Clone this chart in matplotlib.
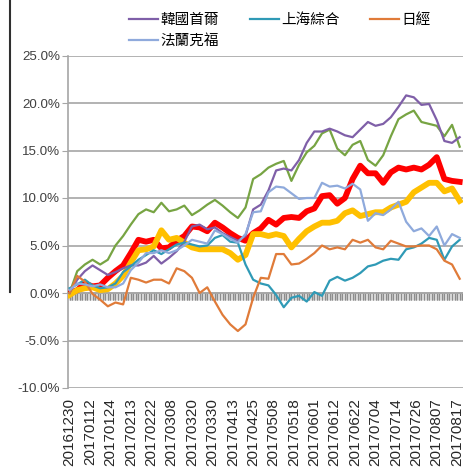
import numpy as np
import matplotlib.pyplot as plt
from matplotlib.lines import Line2D
from matplotlib.markers import TICKDOWN
from matplotlib.transforms import blended_transform_factory

plt.rcParams["font.family"] = ["Liberation Sans", "Noto Sans CJK TC", "DejaVu Sans"]

# trading day index of every sample (one sample read every 3 days)
days = np.arange(0, 154, 3)

# date labels shown on the category axis (every 8th trading day)
date_labels = [
    "20161230", "20170112", "20170124", "20170213", "20170222",
    "20170308", "20170320", "20170330", "20170413", "20170425",
    "20170508", "20170518", "20170601", "20170612", "20170622",
    "20170704", "20170714", "20170726", "20170807", "20170817",
]

# cumulative returns in percent
korea = [0.0, 1.4, 2.3, 2.9, 2.4, 1.9, 2.2, 2.6, 2.9, 2.9, 3.2, 3.9, 3.1,
         3.7, 4.4, 5.4, 7.0, 7.2, 6.7, 6.9, 6.3, 5.9, 5.5, 6.0, 8.8, 9.3,
         10.8, 12.9, 13.1, 12.9, 14.0, 15.8, 17.0, 17.0, 17.3, 17.0, 16.6,
         16.4, 17.2, 18.0, 17.6, 17.8, 18.5, 19.6, 20.8, 20.6, 19.8, 19.9,
         18.2, 16.0, 15.8, 16.4]
shanghai = [0.5, 0.9, 1.4, 0.8, 0.5, 0.6, 1.0, 2.2, 2.8, 3.5, 4.0, 4.5, 4.1,
            4.6, 5.1, 5.3, 5.1, 4.9, 5.0, 5.8, 6.1, 5.4, 5.3, 3.0, 1.4, 1.0,
            0.8, -0.2, -1.5, -0.5, -0.3, -0.9, 0.1, -0.3, 1.3, 1.7, 1.3, 1.6,
            2.1, 2.8, 3.0, 3.4, 3.6, 3.5, 4.6, 4.8, 5.2, 5.8, 5.6, 3.5, 4.9,
            5.6]
nikkei = [0.0, 1.8, 1.2, -0.1, -0.7, -1.4, -1.0, -1.2, 1.6, 1.4, 1.1, 1.4,
          1.4, 1.0, 2.6, 2.3, 1.6, 0.0, 0.6, -0.9, -2.3, -3.3, -4.0, -3.3,
          -0.5, 1.6, 1.5, 4.1, 4.1, 3.0, 3.1, 3.6, 4.2, 5.0, 4.6, 4.8, 4.6,
          5.6, 5.3, 5.6, 4.8, 4.6, 5.5, 5.2, 4.9, 4.9, 5.0, 5.0, 4.6, 3.4,
          3.0, 1.5]
frankfurt = [0.3, 1.0, 0.9, 0.7, 0.9, 0.6, 0.6, 1.0, 2.4, 3.2, 4.2, 4.2,
             4.5, 4.2, 4.5, 5.0, 5.6, 5.4, 5.2, 6.6, 6.2, 5.7, 5.3, 6.2, 8.5,
             8.6, 10.6, 11.2, 11.1, 10.5, 9.9, 10.0, 10.0, 11.6, 11.2, 11.3,
             11.0, 11.5, 10.9, 7.6, 8.4, 8.2, 8.8, 9.6, 7.5, 6.5, 6.8, 6.0,
             7.0, 5.0, 6.2, 5.8]
green_avg = [0.0, 2.3, 3.0, 3.5, 3.0, 3.5, 5.0, 6.0, 7.2, 8.3, 8.8, 8.5, 9.5,
             8.6, 8.8, 9.2, 8.2, 8.7, 9.3, 9.8, 9.2, 8.5, 7.9, 9.0, 12.0,
             12.5, 13.2, 13.6, 13.9, 11.8, 13.5, 14.8, 15.5, 16.8, 17.2, 15.2,
             14.5, 15.6, 16.0, 14.0, 13.4, 14.5, 16.5, 18.3, 18.8, 19.2, 18.0,
             17.8, 17.6, 16.5, 17.7, 15.4]
red_avg = [0.0, 0.3, 1.0, 0.7, 0.8, 1.6, 2.3, 2.9, 4.2, 5.6, 5.4, 5.6, 4.7,
           4.8, 5.5, 6.0, 7.0, 6.9, 6.5, 7.4, 6.9, 6.3, 5.8, 5.5, 6.3, 6.8,
           7.7, 7.2, 7.9, 8.0, 7.9, 8.6, 8.9, 10.2, 10.3, 9.4, 10.0, 12.0,
           13.4, 12.6, 12.6, 11.6, 12.7, 13.2, 13.0, 13.2, 13.0, 13.5, 14.3,
           12.0, 11.8, 11.7]
yellow_avg = [-0.2, 0.3, 0.5, 0.6, 0.3, 0.4, 1.0, 1.8, 3.2, 4.5, 4.6, 4.9,
              6.6, 5.6, 5.8, 5.3, 4.8, 4.6, 4.6, 4.6, 4.6, 4.2, 3.5, 4.0, 6.2,
              6.2, 6.0, 6.2, 6.0, 4.8, 5.7, 6.5, 7.0, 7.4, 7.4, 7.6, 8.4, 8.7,
              8.1, 8.3, 8.5, 8.5, 9.0, 9.3, 9.6, 10.6, 11.1, 11.6, 11.6, 10.7,
              11.0, 9.7]


def main():
    fig = plt.figure(figsize=(4.63, 4.76), dpi=100)
    ax = fig.add_axes([68.3 / 463, 88 / 476, 1 - 68.3 / 463, 332.5 / 476])

    # thick lines first, thin ones drawn over them
    ax.plot(days, np.array(red_avg) / 100, color="#FF0000", lw=4.2,
            solid_joinstyle="round", zorder=3)
    ax.plot(days, np.array(yellow_avg) / 100, color="#FFC000", lw=4.2,
            solid_joinstyle="round", zorder=3)
    ax.plot(days, np.array(green_avg) / 100, color="#77A443", lw=1.6, zorder=4)
    l_kr, = ax.plot(days, np.array(korea) / 100, color="#7F5FA8", lw=1.6,
                    label="韓國首爾", zorder=4)
    l_sh, = ax.plot(days, np.array(shanghai) / 100, color="#2F9AB6", lw=1.6,
                    label="上海綜合", zorder=4)
    l_nk, = ax.plot(days, np.array(nikkei) / 100, color="#E07B39", lw=1.6,
                    label="日經", zorder=4)
    l_fr, = ax.plot(days, np.array(frankfurt) / 100, color="#8FAADC", lw=1.6,
                    label="法蘭克福", zorder=4)

    ax.set_ylim(-0.10, 0.25)
    ax.set_xlim(-0.5, 154.3)
    yt = np.arange(-0.10, 0.2501, 0.05)
    ax.set_yticks(yt)
    ax.set_yticklabels(["{:.1f}%".format(v * 100) for v in yt],
                       fontsize=9.6, color="#404040")
    for lab in ax.get_yticklabels():
        lab.set_family(["Liberation Sans Narrow", "Liberation Sans"])
    ax.yaxis.grid(True, color="#A6A6A6", lw=1.2, zorder=1)
    ax.tick_params(axis="y", length=4, color="#A6A6A6", pad=2)

    # date labels under the plot area
    trans = blended_transform_factory(ax.transData, ax.transAxes)
    for k, lab in enumerate(date_labels):
        ax.text(k * 8, -0.03, lab, transform=trans, rotation=90,
                ha="center", va="top", fontsize=11, color="#262626")

    for side in ["top", "right"]:
        ax.spines[side].set_visible(False)
    ax.spines["left"].set_color("#A6A6A6")
    ax.spines["left"].set_linewidth(1.2)

    # legend filled row by row like the original
    fig.legend([l_kr, l_fr, l_sh, l_nk],
               ["韓國首爾", "法蘭克福", "上海綜合", "日經"],
               loc="upper left", bbox_to_anchor=(116 / 463, 1.0), ncol=3,
               frameon=False, handlelength=2.0, handletextpad=0.15,
               columnspacing=2.1, labelspacing=0.45,
               prop={"family": "Noto Sans CJK TC", "size": 10.5})

    # edge of the neighbouring frame on the left
    fig.add_artist(Line2D([10 / 463, 10 / 463], [1.0, 184 / 476],
                          transform=fig.transFigure, color="#303030", lw=1.5))

    # category axis crossing at 0% with a tick mark on every day
    ax.spines["bottom"].set_position(("data", 0))
    ax.spines["bottom"].set_color("#A6A6A6")
    ax.spines["bottom"].set_linewidth(1.2)
    ax.set_xticks(np.arange(0, 155))
    ax.set_xticklabels([])
    ax.tick_params(axis="x", direction="out", length=5, width=1.0,
                   color="#8C8C8C")
    cat_pos = np.arange(0, 155)
    ax.plot(cat_pos, np.zeros(len(cat_pos)), ls="none", marker=TICKDOWN,
            markersize=5, markeredgewidth=1.0, color="#8C8C8C",
            zorder=2)

    plt.savefig("out.png", dpi=100)


if __name__ == "__main__":
    main()
